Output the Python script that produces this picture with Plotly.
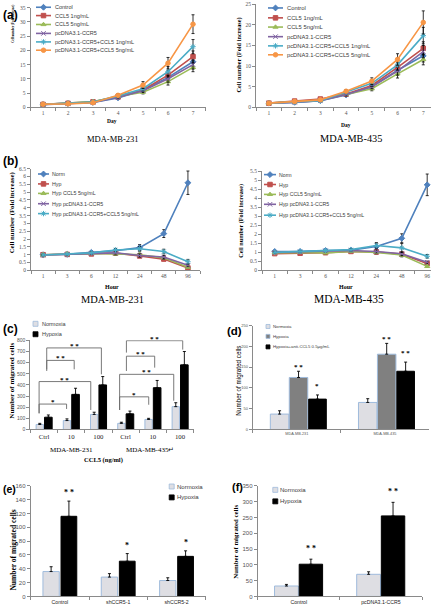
import plotly.graph_objects as go

W, H = 431, 611

# ------------------------------------------------------------------ data
day_labels = ["1", "2", "3", "4", "5", "6", "7"]
hour_labels = ["1", "3", "6", "12", "24", "48", "96"]

a_names = ["Control", "CCL5 1ng/mL", "CCL5 5ng/mL", "pcDNA3.1-CCR5",
           "pcDNA3.1-CCR5+CCL5 1ng/mL", "pcDNA3.1-CCR5+CCL5 5ng/mL"]
# (a) MDA-MB-231, fold increase by day
a231_control = [1.0, 1.3, 1.7, 3.3, 6.0, 10.5, 16.0]
a231_ccl5_1 = [1.0, 1.4, 1.9, 3.7, 6.1, 11.3, 17.8]
a231_ccl5_5 = [1.0, 1.5, 2.0, 3.8, 5.3, 9.0, 14.0]
a231_pcdna = [0.9, 1.2, 1.7, 3.5, 5.8, 10.0, 15.0]
a231_pcdna_ccl5_1 = [1.0, 1.3, 1.8, 4.0, 6.5, 12.5, 21.3]
a231_pcdna_ccl5_5 = [1.1, 1.2, 1.6, 4.2, 7.8, 15.5, 29.2]
a231_err_control = [0.1, 0.1, 0.2, 0.4, 0.6, 1.2, 1.8]
a231_err_ccl5_1 = [0.1, 0.1, 0.2, 0.5, 0.7, 1.5, 2.0]
a231_err_ccl5_5 = [0.1, 0.1, 0.2, 0.5, 0.6, 1.2, 1.5]
a231_err_pcdna = [0.1, 0.1, 0.2, 0.4, 0.6, 1.2, 1.6]
a231_err_pcdna_ccl5_1 = [0.1, 0.1, 0.2, 0.5, 0.8, 1.8, 2.5]
a231_err_pcdna_ccl5_5 = [0.1, 0.1, 0.2, 0.6, 1.2, 2.0, 3.3]
# (a) MDA-MB-435
a435_control = [1.0, 1.2, 1.6, 3.0, 5.0, 9.0, 12.5]
a435_ccl5_1 = [1.0, 1.5, 2.0, 3.2, 5.3, 9.7, 14.3]
a435_ccl5_5 = [1.0, 1.3, 1.7, 3.1, 4.5, 8.1, 11.6]
a435_pcdna = [1.0, 1.2, 1.6, 3.1, 5.0, 8.8, 13.5]
a435_pcdna_ccl5_1 = [1.0, 1.3, 1.6, 3.7, 5.8, 10.3, 17.4]
a435_pcdna_ccl5_5 = [1.0, 1.4, 1.8, 3.9, 6.35, 11.6, 20.6]
a435_err_control = [0.1, 0.1, 0.2, 0.3, 0.5, 1.0, 1.5]
a435_err_ccl5_1 = [0.1, 0.1, 0.2, 0.3, 0.6, 1.1, 1.6]
a435_err_ccl5_5 = [0.1, 0.1, 0.2, 0.3, 0.5, 1.0, 1.3]
a435_err_pcdna = [0.1, 0.1, 0.2, 0.3, 0.5, 1.0, 1.5]
a435_err_pcdna_ccl5_1 = [0.1, 0.1, 0.2, 0.4, 0.7, 1.3, 2.0]
a435_err_pcdna_ccl5_5 = [0.1, 0.1, 0.2, 0.4, 0.8, 1.4, 2.8]

b_names = ["Norm", "Hyp", "Hyp CCL5 5ng/mL", "Hyp pcDNA3.1-CCR5",
           "Hyp pcDNA3.1-CCR5+CCL5 5ng/mL"]
# (b) MDA-MB-231, fold increase by hour
b231_norm = [1.0, 1.02, 1.15, 1.25, 1.45, 2.35, 5.6]
b231_hyp = [1.0, 1.02, 1.05, 1.1, 0.92, 0.72, 0.15]
b231_hyp_ccl5 = [1.0, 1.05, 1.08, 1.05, 1.0, 0.8, 0.2]
b231_hyp_pcdna = [0.98, 1.02, 1.08, 1.12, 0.95, 0.85, 0.32]
b231_hyp_pcdna_ccl5 = [0.98, 1.03, 1.12, 1.3, 1.38, 1.2, 0.55]
b231_err_norm = [0.05, 0.05, 0.08, 0.1, 0.2, 0.25, 0.75]
b231_err_hyp = [0.04, 0.04, 0.06, 0.08, 0.1, 0.1, 0.05]
b231_err_hyp_ccl5 = [0.04, 0.04, 0.06, 0.08, 0.1, 0.1, 0.05]
b231_err_hyp_pcdna = [0.04, 0.04, 0.06, 0.08, 0.1, 0.1, 0.08]
b231_err_hyp_pcdna_ccl5 = [0.04, 0.04, 0.06, 0.1, 0.15, 0.15, 0.15]
# (b) MDA-MB-435
b435_norm = [1.05, 1.05, 1.1, 1.12, 1.32, 1.78, 4.75]
b435_hyp = [0.93, 0.95, 0.98, 1.05, 1.02, 0.9, 0.38]
b435_hyp_ccl5 = [0.98, 1.0, 0.97, 1.05, 1.0, 0.85, 0.22]
b435_hyp_pcdna = [1.0, 1.02, 1.08, 1.1, 1.05, 0.92, 0.45]
b435_hyp_pcdna_ccl5 = [1.0, 1.05, 1.1, 1.15, 1.38, 1.25, 0.78]
b435_err_norm = [0.05, 0.05, 0.08, 0.08, 0.2, 0.25, 0.6]
b435_err_hyp = [0.04, 0.04, 0.05, 0.06, 0.08, 0.1, 0.06]
b435_err_hyp_ccl5 = [0.04, 0.04, 0.05, 0.06, 0.08, 0.1, 0.06]
b435_err_hyp_pcdna = [0.04, 0.04, 0.05, 0.06, 0.08, 0.1, 0.06]
b435_err_hyp_pcdna_ccl5 = [0.04, 0.04, 0.05, 0.06, 0.15, 0.25, 0.1]

# (c) migration vs CCL5 dose
c_cells = ["MDA-MB-231", "MDA-MB-435\u21b5"]
c_doses = ["Ctrl", "10", "100"]
c_norm = [45, 80, 135, 55, 90, 205]
c_norm_err = [10, 15, 20, 10, 10, 35]
c_hyp = [110, 315, 400, 140, 375, 580]
c_hyp_err = [20, 55, 75, 25, 65, 120]
# significance brackets: (left, right, top, left end, right end, label)
c_brackets = [(-0.18, 0.83, 228, 145, 184, "*"),
              (-0.18, 1.72, 430, 145, 175, "* *"),
              (0.10, 1.11, 620, 525, 540, "* *"),
              (0.10, 2.11, 732, 540, 495, "* *"),
              (2.78, 3.85, 293, 175, 222, "*"),
              (2.78, 4.77, 495, 175, 258, "* *"),
              (3.03, 4.07, 658, 525, 555, "* *"),
              (3.03, 5.10, 797, 690, 717, "* *")]

# (d) anti-CCL5
d_groups = ["MDA-MB-231", "MDA-MB-435"]
d_norm = [37, 65]
d_norm_err = [8, 9]
d_hyp = [125, 181]
d_hyp_err = [15, 26]
d_anti = [73, 140]
d_anti_err = [10, 22]
d_hyp_sig = ["* *", "* *"]
d_anti_sig = ["*", "* *"]

# (e) shCCR5
e_groups = ["Control", "shCCR5-1", "shCCR5-2"]
e_norm = [36, 28, 23]
e_norm_err = [7, 5, 4]
e_hyp = [116, 51, 58]
e_hyp_err = [22, 11, 8]
e_sig = ["* *", "*", "*"]

# (f) pcDNA3.1-CCR5
f_groups = ["Control", "pcDNA3.1-CCR5"]
f_norm = [33, 70]
f_norm_err = [5, 8]
f_hyp = [102, 255]
f_hyp_err = [16, 43]
f_sig = ["* *", "* *"]

# ------------------------------------------------------------------ style
SERIF = "Liberation Serif"
SANS = "Liberation Sans"
AXC = "#8a8a8a"
TXT = "#3a3a3a"
TICK = "#555555"
BLUE, RED, GREEN, PURPLE, AQUA, ORANGE = ("#4F81BD", "#C0504D", "#9BBB59",
                                          "#8064A2", "#4BACC6", "#F79646")
NORM_FILL, NORM_LINE = "#dedee3", "#9fbbdc"
HYP_GRAY = "#808080"

a_colors = [BLUE, RED, GREEN, PURPLE, AQUA, ORANGE]
a_symbols = ["diamond", "square", "triangle-up", "x-thin-open", "asterisk-open", "circle"]
b_colors = [BLUE, RED, GREEN, PURPLE, AQUA]
b_symbols = ["diamond", "square", "triangle-up", "x-thin-open", "asterisk-open"]


def xd(a, b):
    return [a / W, b / W]


def yd(top, bottom):
    return [1 - bottom / H, 1 - top / H]


fig = go.Figure()
annotations = []
shapes = []


def text(t, x, y, size, family=SANS, color=TXT, angle=0, xanchor="center",
         yanchor="middle", bold=False, xref="x9", yref="y9", yshift=0):
    annotations.append(dict(text=f"<b>{t}</b>" if bold else t, x=x, y=y, xref=xref,
                            yref=yref, showarrow=False, textangle=angle,
                            xanchor=xanchor, yanchor=yanchor, yshift=yshift,
                            font=dict(family=family, size=size, color=color)))


def axes(n, xdom, ydom, xrange, yrange, dtick, xfont, yfont):
    s = "" if n == 1 else str(n)
    fig.layout["xaxis" + s] = dict(
        domain=xd(*xdom), anchor="y" + s, type="category", range=xrange,
        showline=True, linecolor=AXC, linewidth=1, ticks="outside", ticklen=3,
        tickcolor=AXC, tickson="boundaries", tickfont=xfont, showgrid=False,
        zeroline=False, fixedrange=True)
    fig.layout["yaxis" + s] = dict(
        domain=yd(*ydom), anchor="x" + s, range=yrange, dtick=dtick, tick0=0,
        showline=True, linecolor=AXC, linewidth=1, ticks="outside", ticklen=3,
        tickcolor=AXC, tickfont=yfont, showgrid=False, zeroline=False,
        fixedrange=True)


def line_panel(n, cats, series, errs, colors, symbols, names):
    s = "" if n == 1 else str(n)
    for ys, es, col, sym, nm in zip(series, errs, colors, symbols, names):
        fig.add_trace(go.Scatter(
            x=cats, y=ys, name=nm, mode="lines+markers", xaxis="x" + s, yaxis="y" + s,
            line=dict(color=col, width=1.6),
            marker=dict(symbol=sym, size=4.5, color=col, line=dict(color=col, width=1)),
            error_y=dict(type="data", array=es, color="black", thickness=0.8, width=1.5),
            showlegend=False, hoverinfo="skip"))


def line_legend(names, colors, symbols, x0, x1, tx, rows, fsize):
    for nm, col, sym, yy in zip(names, colors, symbols, rows):
        fig.add_trace(go.Scatter(x=[x0, x1], y=[yy, yy], mode="lines", xaxis="x9",
                                 yaxis="y9", line=dict(color=col, width=1.6),
                                 showlegend=False, hoverinfo="skip"))
        fig.add_trace(go.Scatter(x=[(x0 + x1) / 2], y=[yy], mode="markers", xaxis="x9",
                                 yaxis="y9", marker=dict(symbol=sym, size=4.5, color=col,
                                                         line=dict(color=col, width=1)),
                                 showlegend=False, hoverinfo="skip"))
        text(nm, tx, yy, fsize, xanchor="left")


def box_legend(names, fills, lines, x, tx, rows, fsize, msize):
    for nm, fc, lc, yy in zip(names, fills, lines, rows):
        fig.add_trace(go.Scatter(x=[x], y=[yy], mode="markers", xaxis="x9", yaxis="y9",
                                 marker=dict(symbol="square", size=msize, color=fc,
                                             line=dict(color=lc, width=0.8)),
                                 showlegend=False, hoverinfo="skip"))
        text(nm, tx, yy, fsize, xanchor="left")


def bars(n, cats, vals, errs, width, offset, fill, line):
    s = "" if n == 1 else str(n)
    fig.add_trace(go.Bar(
        x=cats, y=vals, width=width, offset=offset, xaxis="x" + s, yaxis="y" + s,
        marker=dict(color=fill, line=dict(color=line, width=1)),
        error_y=dict(type="data", array=errs, arrayminus=[0] * len(errs),
                     symmetric=False, color="black", thickness=0.9, width=1.5),
        showlegend=False, hoverinfo="skip"))


tfa = dict(family=SERIF, size=5.5, color=TICK)

# ---------------------------------------------------------------- (a)
axes(1, (30.5, 205.5), (4.7, 105.3), [-0.5, 6.5], [0, 35], 5, tfa, tfa)
line_panel(1, day_labels,
           [a231_control, a231_ccl5_1, a231_ccl5_5, a231_pcdna, a231_pcdna_ccl5_1, a231_pcdna_ccl5_5],
           [a231_err_control, a231_err_ccl5_1, a231_err_ccl5_5, a231_err_pcdna,
            a231_err_pcdna_ccl5_1, a231_err_pcdna_ccl5_5],
           a_colors, a_symbols, a_names)
axes(2, (256, 431), (1.3, 105.3), [-0.5, 6.3], [0, 25], 5, tfa, tfa)
line_panel(2, day_labels,
           [a435_control, a435_ccl5_1, a435_ccl5_5, a435_pcdna, a435_pcdna_ccl5_1, a435_pcdna_ccl5_5],
           [a435_err_control, a435_err_ccl5_1, a435_err_ccl5_5, a435_err_pcdna,
            a435_err_pcdna_ccl5_1, a435_err_pcdna_ccl5_5],
           a_colors, a_symbols, a_names)
line_legend(a_names, a_colors, a_symbols, 36, 51, 53, [4.3, 12.7, 21.7, 30.7, 39.3, 47.7], 5.5)
line_legend(a_names, a_colors, a_symbols, 268, 283, 285, [5, 15, 24.3, 34, 43.3, 52.3], 5.8)
text("(a)", 1, 11.7, 12, bold=True, color="black", xanchor="left")
text("Cell number (Fold increase)", 13, 21, 3.2, SERIF, "black", -90, bold=True)
text("Cell number (Fold increase)", 239, 53, 6.3, SERIF, "black", -90, bold=True)
text("Day", 112, 119.3, 5.5, SERIF, "black", bold=True)
text("Day", 346, 122.7, 5.5, SERIF, "black", bold=True)
text("MDA-MB-231", 112, 137, 8.5, SERIF, "black")
text("MDA-MB-435", 351, 136.7, 10.3, SERIF, "black")

# ---------------------------------------------------------------- (b)
axes(3, (31, 200), (167.3, 270), [-0.5, 6.5], [0, 6.5], 0.5, tfa, tfa)
line_panel(3, hour_labels,
           [b231_norm, b231_hyp, b231_hyp_ccl5, b231_hyp_pcdna, b231_hyp_pcdna_ccl5],
           [b231_err_norm, b231_err_hyp, b231_err_hyp_ccl5, b231_err_hyp_pcdna,
            b231_err_hyp_pcdna_ccl5],
           b_colors, b_symbols, b_names)
axes(4, (262, 431), (170, 270), [-0.5, 6.15], [0, 5.5], 0.5, tfa, tfa)
line_panel(4, hour_labels,
           [b435_norm, b435_hyp, b435_hyp_ccl5, b435_hyp_pcdna, b435_hyp_pcdna_ccl5],
           [b435_err_norm, b435_err_hyp, b435_err_hyp_ccl5, b435_err_hyp_pcdna,
            b435_err_hyp_pcdna_ccl5],
           b_colors, b_symbols, b_names)
line_legend(b_names, b_colors, b_symbols, 38, 49, 50, [172.7, 182.7, 192.3, 202.7, 212.7], 5.3)
line_legend(b_names, b_colors, b_symbols, 264, 276, 277, [173.3, 183.3, 193.3, 203.3, 214.3], 5.2)
text("(b)", 1, 160, 12, bold=True, color="black", xanchor="left")
text("Cell number (Fold increase)", 11.7, 211.7, 6.8, SERIF, "black", -90, bold=True)
text("Cell number (Fold increase)", 241, 220, 6.2, SERIF, "black", -90, bold=True)
text("Hour", 111.7, 286.5, 6, SERIF, "black", bold=True)
text("Hour", 346, 287.3, 6, SERIF, "black", bold=True)
text("MDA-MB-231", 112, 299, 10.4, SERIF, "black")
text("MDA-MB-435", 349, 299, 11.5, SERIF, "black")

# ---------------------------------------------------------------- (c)
c_cats = [f"{c} {d}" for c in c_cells for d in c_doses]
axes(5, (30.4, 193.6), (340.7, 430.7), [-0.5, 5.5], [0, 800], 100,
     dict(family=SERIF, size=6.8, color="#222222"), dict(family=SANS, size=5, color=TICK))
fig.layout.xaxis5.update(tickvals=c_cats, ticktext=c_doses * len(c_cells))
bars(5, c_cats, c_norm, c_norm_err, 0.27, -0.29, NORM_FILL, NORM_LINE)
bars(5, c_cats, c_hyp, c_hyp_err, 0.28, 0.02, "black", "black")
for (xl, xr, top, yl, yr, lab) in c_brackets:
    for (xa, ya, xb, yb) in [(xl, yl, xl, top), (xl, top, xr, top), (xr, top, xr, yr)]:
        shapes.append(dict(type="line", xref="x5", yref="y5", x0=xa, y0=ya, x1=xb, y1=yb,
                           line=dict(color="#6a6a6a", width=0.9)))
    text(lab, (xl + xr) / 2, top, 7, SERIF, "black", xref="x5", yref="y5",
         yanchor="bottom", bold=True, yshift=-4)
for i, cell in enumerate(c_cells):
    text(cell, 71.7 + i * 78.3, 451.7, 7, SERIF, "black")
text("CCL5 (ng/ml)", 103.3, 461.5, 6.5, SERIF, "black", bold=True)
text("(c)", 1, 329, 12, bold=True, color="black", xanchor="left")
text("Number of migrated cells", 11.7, 381.7, 7, SERIF, "black", -90, bold=True)
box_legend(["Normoxia", "Hypoxia"], [NORM_FILL, "black"], [NORM_LINE, "black"],
           35.5, 39.5, [324, 334.5], 5.5, 5)

# ---------------------------------------------------------------- (d)
axes(6, (252.7, 429), (325.7, 430.7), [-0.5, 1.5], [0, 250], 50,
     dict(family=SANS, size=3.8, color=TICK), dict(family=SANS, size=4, color=TICK))
bars(6, d_groups, d_norm, d_norm_err, 0.21, -0.3, NORM_FILL, NORM_LINE)
bars(6, d_groups, d_hyp, d_hyp_err, 0.21, -0.085, HYP_GRAY, NORM_LINE)
bars(6, d_groups, d_anti, d_anti_err, 0.2, 0.135, "black", "black")
for i, (s1, s2) in enumerate(zip(d_hyp_sig, d_anti_sig)):
    text(s1, i + 0.02, d_hyp[i] + d_hyp_err[i], 7, SERIF, "black", xref="x6", yref="y6",
         yanchor="bottom", bold=True, yshift=-2)
    text(s2, i + 0.235, d_anti[i] + d_anti_err[i], 7, SERIF, "black", xref="x6", yref="y6",
         yanchor="bottom", bold=True, yshift=3)
text("(d)", 225, 331, 11.5, bold=True, color="black", xanchor="left")
text("Number of migrated cells", 238.7, 381.7, 6.3, SANS, "black", -90)
box_legend(["Normoxia", "Hypoxia", "Hypoxia+anti-CCL5 0.5\u03bcg/mL"],
           [NORM_FILL, HYP_GRAY, "black"], [NORM_LINE, NORM_LINE, "black"],
           268, 270.5, [326.7, 336.7, 347.3], 4.3, 4)

# ---------------------------------------------------------------- (e)
axes(7, (30.7, 205.7), (487.7, 599.3), [-0.5, 2.5], [0, 160], 20,
     dict(family=SANS, size=5.2, color="#222222"), dict(family=SANS, size=6, color=TICK))
bars(7, e_groups, e_norm, e_norm_err, 0.28, -0.29, NORM_FILL, NORM_LINE)
bars(7, e_groups, e_hyp, e_hyp_err, 0.27, 0.02, "black", "black")
for i, s in enumerate(e_sig):
    text(s, i + 0.155, e_hyp[i] + e_hyp_err[i], 8, SERIF, "black", xref="x7", yref="y7",
         yanchor="bottom", bold=True, yshift=2)
text("(e)", 0.5, 491, 10.5, bold=True, color="black", xanchor="left")
text("Number of migrated cells", 14, 553, 7.5, SERIF, "black", -90, bold=True)
box_legend(["Normoxia", "Hypoxia"], [NORM_FILL, "black"], [NORM_LINE, "black"],
           171.7, 175, [488.3, 499.3], 6, 5)

# ---------------------------------------------------------------- (f)
axes(8, (257.7, 422), (487.7, 599.3), [-0.5, 1.5], [0, 350], 50,
     dict(family=SANS, size=5.2, color="#222222"), dict(family=SANS, size=6, color=TICK))
bars(8, f_groups, f_norm, f_norm_err, 0.29, -0.295, NORM_FILL, NORM_LINE)
bars(8, f_groups, f_hyp, f_hyp_err, 0.285, 0.005, "black", "black")
for i, s in enumerate(f_sig):
    text(s, i + 0.15, f_hyp[i] + f_hyp_err[i], 8, SERIF, "black", xref="x8", yref="y8",
         yanchor="bottom", bold=True, yshift=4)
text("(f)", 230, 488.5, 11, bold=True, color="black", xanchor="left")
text("Number of migrated cells", 236, 544, 6.8, SERIF, "black", -90, bold=True)
box_legend(["Normoxia", "Hypoxia"], [NORM_FILL, "black"], [NORM_LINE, "black"],
           275.3, 278, [491.7, 503.3], 6, 5)

# ---------------------------------------------------------------- overlay (pixel) axes
fig.layout["xaxis9"] = dict(domain=[0, 1], range=[0, W], visible=False, anchor="y9",
                            fixedrange=True)
fig.layout["yaxis9"] = dict(domain=[0, 1], range=[H, 0], visible=False, anchor="x9",
                            fixedrange=True)

fig.update_layout(
    width=W, height=H, margin=dict(l=0, r=0, t=0, b=0),
    paper_bgcolor="white", plot_bgcolor="rgba(0,0,0,0)",
    barmode="overlay", showlegend=False,
    annotations=annotations, shapes=shapes,
)

fig.write_html("out.html", config={"staticPlot": True},
               post_script="document.body.style.margin='0';document.body.style.overflow='hidden';")
